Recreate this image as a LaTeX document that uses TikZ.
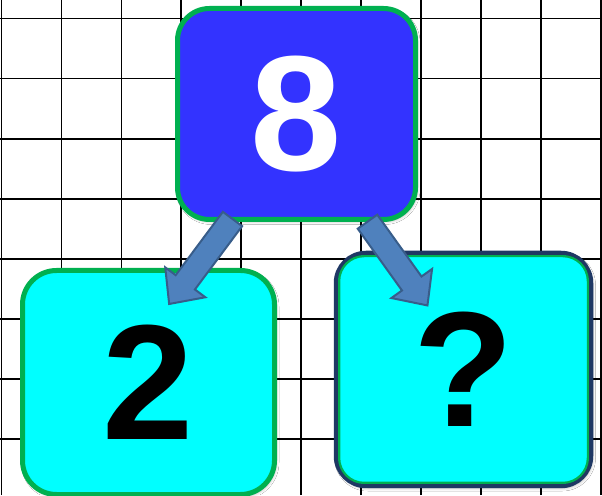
\documentclass[tikz,border=0pt]{standalone}
\usepackage{fontspec}
\setmainfont{Liberation Sans}
\usetikzlibrary{shadows.blur}
\definecolor{boxblue}{RGB}{51,51,255}
\definecolor{boxgreen}{RGB}{0,176,80}
\definecolor{boxcyan}{RGB}{0,255,255}
\definecolor{boxnavy}{RGB}{31,56,100}
\definecolor{arrowfill}{RGB}{79,129,189}
\definecolor{arrowline}{RGB}{56,93,138}
\tikzset{
  gridline/.style={black, line width=1.8pt},
  numbox/.style={rectangle, line width=5pt, draw=boxgreen, inner sep=0pt,
    blur shadow={shadow xshift=1.5pt, shadow yshift=-2pt, shadow opacity=30, shadow blur radius=3pt},
    font=\bfseries\fontsize{164}{164}\selectfont},
  blockarrow/.style={fill=arrowfill, draw=arrowline, line width=2pt, line join=miter},
}
\begin{document}
\begin{tikzpicture}[x=1pt,y=1pt]
\useasboundingbox (0,0) rectangle (602,495);
\fill[white] (0,0) rectangle (602,495);
% grid
\foreach \i in {0,...,10} \draw[gridline] (1.5+59.95*\i,0) -- (1.5+59.95*\i,495);
\foreach \k in {0,...,8} \draw[gridline] (0,495-18.5-60.1*\k) -- (602,495-18.5-60.1*\k);
% boxes
\node[numbox, fill=boxblue, text=white, rounded corners=32pt,
  minimum width=238pt, minimum height=211pt] (top) at (296.5,381) {8};
\node[numbox, fill=boxcyan, text=black, rounded corners=34pt,
  minimum width=252pt, minimum height=224pt] (left) at (148.5,112.5) {2};
\node[numbox, fill=boxcyan, text=black, draw=boxnavy, line width=4.5pt, rounded corners=30pt,
  minimum width=255pt, minimum height=233pt] (right) at (463.5,125.5) {?};
\draw[boxgreen, line width=2.2pt, rounded corners=25pt]
  ([shift={(5.4pt,5.4pt)}]right.south west) rectangle ([shift={(-5.4pt,-5.4pt)}]right.north east);
% arrows
\coordinate (a1) at (232.5,276);
\coordinate (a2) at (367.5,273.3);
\begin{scope}[shift={(a1)}, rotate=233.3]
  \draw[blockarrow] (0,-12) -- (79,-12) -- (79,-25) -- (106,0) -- (79,25) -- (79,12) -- (0,12) -- cycle;
\end{scope}
\begin{scope}[shift={(a2)}, rotate=-54.4]
  \draw[blockarrow] (0,-12) -- (76,-12) -- (76,-25) -- (103,0) -- (76,25) -- (76,12) -- (0,12) -- cycle;
\end{scope}
\end{tikzpicture}
\end{document}
